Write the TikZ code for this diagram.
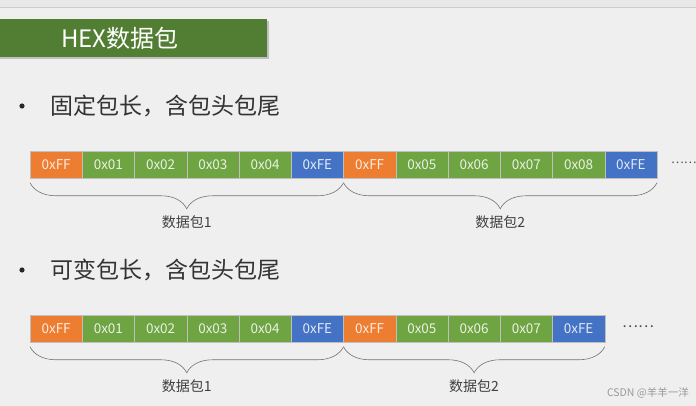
\documentclass[tikz,border=0pt]{standalone}
\usepackage{fontspec}
\setmainfont{Noto Sans CJK SC}
\usetikzlibrary{positioning,decorations.pathreplacing}
\definecolor{hexorange}{HTML}{ED7D31}
\definecolor{hexgreen}{HTML}{6FA443}
\definecolor{hexblue}{HTML}{4472C4}
\definecolor{titlegreen}{HTML}{527E33}
\definecolor{pagegray}{HTML}{EFEFEF}
\begin{document}
\begin{tikzpicture}[x=1pt,y=-1pt,
  cell/.style={minimum width=52.25pt, minimum height=26.5pt, inner sep=0pt, outer sep=0pt,
    draw=black!25, line width=0.3pt, text=white, text opacity=0.85,
    font=\fontsize{13.5}{14}\selectfont},
  brace/.style={decorate, decoration={brace, amplitude=26pt, mirror}, draw=black!55, line width=0.6pt},
  bullet/.style={anchor=west, inner sep=0pt, text=black!80, font=\fontsize{23}{24}\selectfont},
  packlabel/.style={below=33pt, inner sep=0pt, text=black!75, font=\fontsize{14}{15}\selectfont}]
\useasboundingbox (0,0) rectangle (696,406);
\fill[pagegray] (0,0) rectangle (696,406);
\fill[black!9] (0,0) rectangle (696,7);
\draw[black!20] (0,7) -- (696,7);
% title
\fill[black!25] (0,21) rectangle (269,59);
\fill[titlegreen] (0,19) rectangle (267,57);
\node[text=white, font=\fontsize{24}{25}\selectfont] (title) at (120,38) {HEX数据包};
% fixed length
\fill[black!85] (22,106) circle (2.6pt);
\node[bullet] (fixed) at (50,106) {固定包长，含包头包尾};
\foreach \t/\c [count=\i] in {0xFF/hexorange,0x01/hexgreen,0x02/hexgreen,0x03/hexgreen,0x04/hexgreen,0xFE/hexblue,
  0xFF/hexorange,0x05/hexgreen,0x06/hexgreen,0x07/hexgreen,0x08/hexgreen,0xFE/hexblue}
  \node[cell, fill=\c] (a\i) at ({30+52.25*(\i-0.5)},164.5) {\t};
\node[font=\fontsize{12}{12}\selectfont, text=black!70, anchor=west, inner sep=0pt] (adots) at (671,163) {……};
\draw[brace] ([yshift=-5pt]a1.south west) -- ([yshift=-5pt]a6.south east)
  node[packlabel, midway] (ap1) {数据包1};
\draw[brace] ([yshift=-5pt]a7.south west) -- ([yshift=-5pt]a12.south east)
  node[packlabel, midway] (ap2) {数据包2};
% variable length
\fill[black!85] (22,270) circle (2.6pt);
\node[bullet] (variable) at (50,270) {可变包长，含包头包尾};
\foreach \t/\c [count=\i] in {0xFF/hexorange,0x01/hexgreen,0x02/hexgreen,0x03/hexgreen,0x04/hexgreen,0xFE/hexblue,
  0xFF/hexorange,0x05/hexgreen,0x06/hexgreen,0x07/hexgreen,0xFE/hexblue}
  \node[cell, fill=\c] (b\i) at ({30+52.25*(\i-0.5)},328.5) {\t};
\node[font=\fontsize{15}{15}\selectfont, text=black!70, anchor=west, inner sep=0pt] (bdots) at (622,327) {……};
\draw[brace] ([yshift=-5pt]b1.south west) -- ([yshift=-5pt]b6.south east)
  node[packlabel, midway] (bp1) {数据包1};
\draw[brace] ([yshift=-5pt]b7.south west) -- ([yshift=-5pt]b11.south east)
  node[packlabel, midway] (bp2) {数据包2};
\node[text=black!40, font=\fontsize{10.5}{11}\selectfont, anchor=east, inner sep=0pt] (mark) at (689,393) {CSDN @羊羊一洋};
\end{tikzpicture}
\end{document}
